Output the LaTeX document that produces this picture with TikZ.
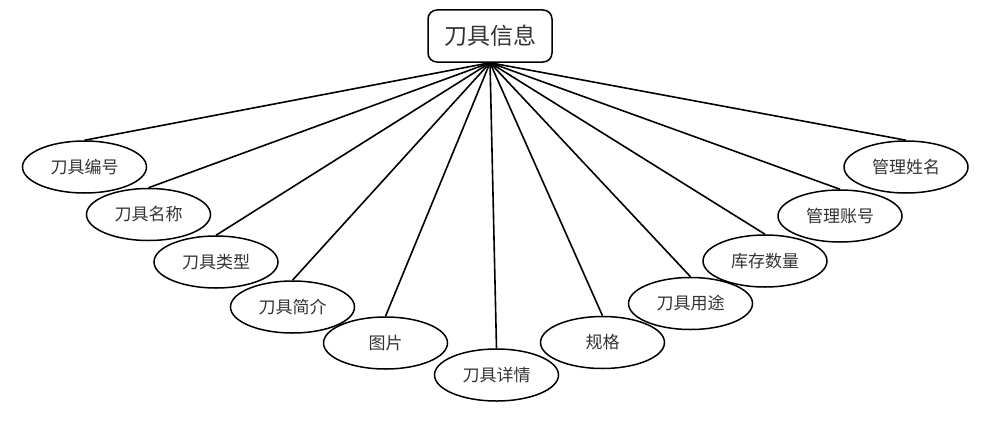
\documentclass[tikz,border=0pt]{standalone}
\usepackage{fontspec}
\newfontfamily\cjk{Noto Sans CJK SC}
\usetikzlibrary{shapes.geometric}
\begin{document}
\begin{tikzpicture}[x=1pt,y=-1pt,
  attr/.style={ellipse, draw=black, line width=1.5pt, minimum width=124pt, minimum height=52pt, inner sep=0pt, font=\cjk\fontsize{17}{17}\selectfont, text=black!80},
  ent/.style={rectangle, rounded corners=9pt, draw=black, line width=1.5pt, minimum width=124pt, minimum height=52pt, inner sep=0pt, font=\cjk\fontsize{23}{23}\selectfont, text=black!80},
  link/.style={line width=1.6pt, draw=black}]
\useasboundingbox (0,0) rectangle (992,420);
\node[ent] (top) at (490,36) {刀具信息};
\node[attr] (a1) at (84.5,167) {刀具编号};
\node[attr] (a2) at (148.5,214.5) {刀具名称};
\node[attr] (a3) at (216,262) {刀具类型};
\node[attr] (a4) at (292.5,307) {刀具简介};
\node[attr] (a5) at (385.5,343) {图片};
\node[attr] (a6) at (496.5,375) {刀具详情};
\node[attr] (a7) at (602.5,342.5) {规格};
\node[attr] (a8) at (690.5,303.5) {刀具用途};
\node[attr] (a9) at (765,261) {库存数量};
\node[attr] (a10) at (840,216) {管理账号};
\node[attr] (a11) at (906,167) {管理姓名};
\foreach \n in {a1,a2,a3,a4,a5,a6,a7,a8,a9,a10,a11}
  \draw[link] (top.south) -- (\n.north);
\end{tikzpicture}
\end{document}
